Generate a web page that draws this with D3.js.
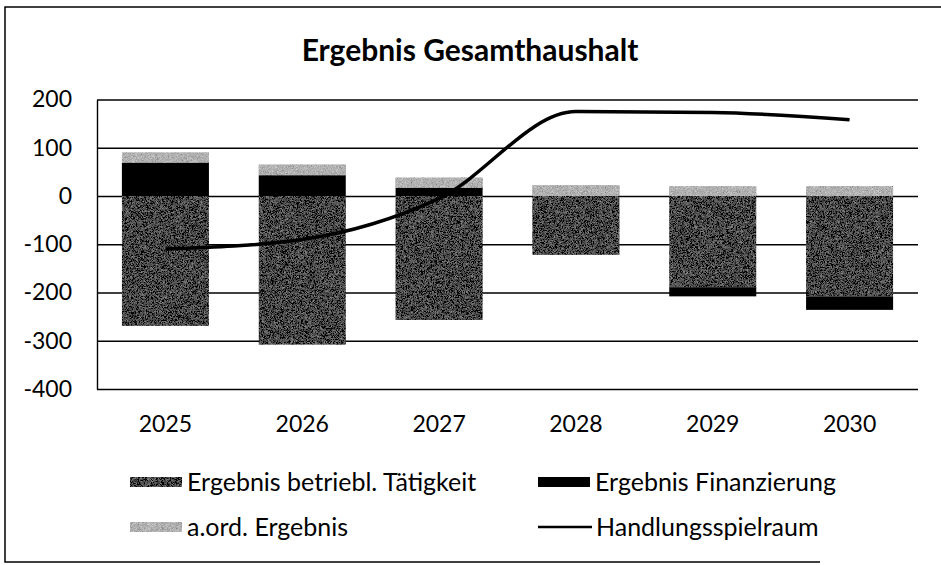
<!DOCTYPE html>
<html>
<head>
  <title>Ergebnis Gesamthaushalt</title>
</head>
<style>
  body {
    margin: 0;
    background: #fff;
  }
  text {
    font-family: Lato, "Open Sans", sans-serif;
    fill: #000;
  }
</style>
<body>
  <script src="https://d3js.org/d3.v7.min.js"></script>
  <script>
    // values
    const years = ["2025", "2026", "2027", "2028", "2029", "2030"];
    const betrieblich = [-269, -308, -257, -122, -189, -208];
    const finanzierung = [69, 43, 17, 0, -19, -28];
    const aord = [21, 22, 21, 22, 20, 20];
    const handlung = [-110, -90, -5, 175, 173, 158];
    const yTicks = [-400, -300, -200, -100, 0, 100, 200];

    const w = 941;
    const h = 565;

    const svg = d3.select("body")
                  .append("svg")
                  .attr("width", w)
                  .attr("height", h)

    // grainy fill like the scanned print
    const defs = svg.append("defs")
    const grain = defs.append("filter")
                      .attr("id", "grain")
                      .attr("x", "-5%").attr("y", "-5%")
                      .attr("width", "110%").attr("height", "110%")
    grain.append("feTurbulence")
         .attr("type", "fractalNoise")
         .attr("baseFrequency", 2.2)
         .attr("numOctaves", 1)
         .attr("seed", 4)
         .attr("result", "noise")
    grain.append("feColorMatrix")
         .attr("in", "noise")
         .attr("type", "matrix")
         .attr("values", "0.33 0.33 0.33 0 0 0.33 0.33 0.33 0 0 0.33 0.33 0.33 0 0 0 0 0 0 1")
         .attr("result", "gray")
    grain.append("feComposite")
         .attr("in", "gray")
         .attr("in2", "SourceGraphic")
         .attr("operator", "arithmetic")
         .attr("k1", 0).attr("k2", 1.1).attr("k3", 1).attr("k4", -0.55)
         .attr("result", "mix")
    grain.append("feComposite")
         .attr("in", "mix")
         .attr("in2", "SourceGraphic")
         .attr("operator", "in")

    // outer frame (left, top, bottom)
    svg.append("path")
       .attr("d", "M945,7H5V562H820")
       .attr("fill", "none")
       .attr("stroke", "#000")
       .attr("stroke-width", 1.5)

    svg.append("text")
       .attr("x", 470)
       .attr("y", 50)
       .attr("dy", "0.35em")
       .attr("text-anchor", "middle")
       .attr("font-size", 30)
       .attr("font-weight", "bold")
       .text("Ergebnis Gesamthaushalt")

    const x = d3.scaleBand()
                .domain(years)
                .range([97, 918])
                .paddingInner(0.364)
                .paddingOuter(0.182)

    const y = d3.scaleLinear()
                .domain([-400, 200])
                .range([389, 99.5])

    // gridlines + vertical axis line
    const grid = svg.append("g")
       .attr("transform", "translate(97,0)")
       .call(d3.axisLeft(y).tickValues(yTicks).tickSize(-(918 - 97)).tickSizeOuter(0).tickFormat(""))
    grid.selectAll("line").attr("stroke", "#000").attr("stroke-width", 1.4)
    grid.select(".domain").attr("stroke", "#000").attr("stroke-width", 1.4)

    const yAxis = svg.append("g")
       .attr("transform", "translate(97,0)")
       .call(d3.axisLeft(y).tickValues(yTicks).tickSize(0).tickPadding(25).tickFormat(d => String(d)))
    yAxis.select(".domain").remove()
    yAxis.selectAll("text").attr("font-size", 23).attr("font-family", "Lato")

    const xAxis = svg.append("g")
       .attr("transform", "translate(0,389)")
       .call(d3.axisBottom(x).tickSize(0).tickPadding(27))
    xAxis.select(".domain").remove()
    xAxis.selectAll("text").attr("font-size", 23).attr("font-family", "Lato")

    // stacked bars
    const keys = ["betrieblich", "finanzierung", "aord"];
    const colors = {betrieblich: "#4a4a4a", finanzierung: "#000", aord: "#b2b2b2"};
    const rows = years.map((yr, i) => ({
      year: yr,
      betrieblich: betrieblich[i],
      finanzierung: finanzierung[i],
      aord: aord[i]
    }))

    const series = d3.stack()
                     .keys(keys)
                     .offset(d3.stackOffsetDiverging)(rows)

    svg.append("g")
       .selectAll("g")
       .data(series)
       .join("g")
         .attr("fill", d => colors[d.key])
       .selectAll("rect")
       .data(d => d)
       .join("rect")
         .attr("x", d => x(d.data.year))
         .attr("width", x.bandwidth())
         .attr("y", d => y(Math.max(d[0], d[1])))
         .attr("height", d => Math.abs(y(d[0]) - y(d[1])))
         .attr("filter", function () {
           return d3.select(this.parentNode).datum().key == "finanzierung" ? null : "url(#grain)"
         })

    // Handlungsspielraum line
    const line = d3.line()
                   .x((d, i) => x(years[i]) + x.bandwidth() / 2)
                   .y(d => y(d))
                   .curve(d3.curveMonotoneX)

    svg.append("path")
       .datum(handlung)
       .attr("d", line)
       .attr("fill", "none")
       .attr("stroke", "#000")
       .attr("stroke-width", 3.5)

    // legend
    const legend = [
      {label: "Ergebnis betriebl. Tätigkeit", type: "rect", fill: colors.betrieblich, lx: 130, ly: 482},
      {label: "Ergebnis Finanzierung", type: "rect", fill: colors.finanzierung, lx: 538, ly: 482},
      {label: "a.ord. Ergebnis", type: "rect", fill: colors.aord, lx: 130, ly: 527},
      {label: "Handlungsspielraum", type: "line", fill: "#000", lx: 538, ly: 527}
    ];

    const lg = svg.append("g")
                  .selectAll("g")
                  .data(legend)
                  .join("g")
                  .attr("transform", d => "translate(" + d.lx + "," + d.ly + ")")

    lg.filter(d => d.type == "rect")
      .append("rect")
      .attr("x", 0)
      .attr("y", -5)
      .attr("width", 52)
      .attr("height", 10)
      .attr("fill", d => d.fill)
      .attr("filter", d => d.fill == "#000" ? null : "url(#grain)")

    lg.filter(d => d.type == "line")
      .append("line")
      .attr("x1", 0)
      .attr("x2", 54)
      .attr("stroke", "#000")
      .attr("stroke-width", 2.5)

    lg.append("text")
      .attr("x", d => d.type == "line" ? 58 : 57)
      .attr("dy", "0.35em")
      .attr("font-size", 25)
      .text(d => d.label)
  </script>
</body>
</html>
